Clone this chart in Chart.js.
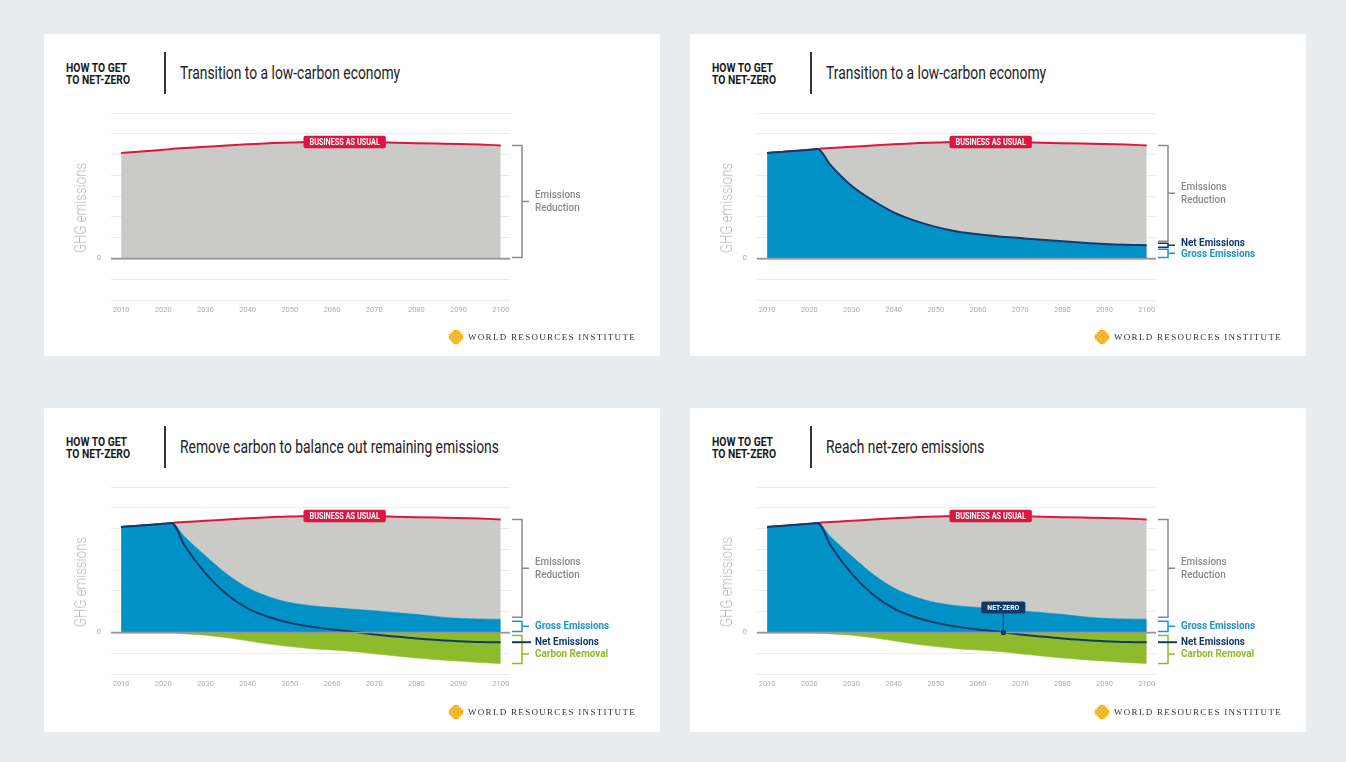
<!DOCTYPE html>
<html>
<head>
<meta charset="utf-8">
<title>How to get to net-zero</title>
<script src="https://cdn.jsdelivr.net/npm/chart.js@4.4.1/dist/chart.umd.min.js"></script>
<style>
  html, body { margin: 0; padding: 0; }
  body {
    width: 1346px; height: 762px; background: #e8ecee; position: relative; overflow: hidden;
    font-family: Roboto, "Liberation Sans", sans-serif;
  }
  .panel { position: absolute; width: 616px; height: 322px; background: #fff; }
  .kicker {
    position: absolute; left: 22px; top: 28px; font-weight: bold; font-size: 12px; line-height: 12px; color: #1a1a1a;
    transform: scaleX(0.86); transform-origin: left top; white-space: nowrap;
  }
  .divider { position: absolute; left: 120px; top: 18px; width: 1.5px; height: 42px; background: #333; }
  .title {
    position: absolute; left: 136px; top: 28px; font-size: 18px; line-height: 22px; color: #222; white-space: nowrap;
    transform: scaleX(0.77); transform-origin: left center;
  }
  .ytitle {
    position: absolute; left: -24px; top: 165px; width: 120px; line-height: 18px; text-align: center;
    font-size: 17px; font-weight: 300; color: #b9b9b9; white-space: nowrap;
    transform: rotate(-90deg) scaleX(0.78);
  }
  .panel canvas { position: absolute; left: 0; top: 60px; }
  .wri { position: absolute; left: 404px; top: 295px; height: 16px; display: flex; align-items: center; }
  .wri span { margin-left: 4px; font-family: "Liberation Serif", "DejaVu Serif", serif; font-size: 9px; letter-spacing: 1.3px; color: #333; }
</style>
</head>
<body>

<div class="panel" style="left:44px; top:34px;">
  <div class="kicker">HOW TO GET<br>TO NET-ZERO</div><div class="divider"></div>
  <div class="title" id="t1"></div>
  <canvas id="c1" width="616" height="240"></canvas>
  <div class="ytitle">GHG emissions</div>
  <div class="wri"><svg width="16" height="16" class="logo"></svg><span>WORLD RESOURCES INSTITUTE</span></div>
</div>
<div class="panel" style="left:690px; top:34px;">
  <div class="kicker">HOW TO GET<br>TO NET-ZERO</div><div class="divider"></div>
  <div class="title" id="t2"></div>
  <canvas id="c2" width="616" height="240"></canvas>
  <div class="ytitle">GHG emissions</div>
  <div class="wri"><svg width="16" height="16" class="logo"></svg><span>WORLD RESOURCES INSTITUTE</span></div>
</div>
<div class="panel" style="left:44px; top:408px; height:324px;">
  <div class="kicker">HOW TO GET<br>TO NET-ZERO</div><div class="divider"></div>
  <div class="title" id="t3"></div>
  <canvas id="c3" width="616" height="240"></canvas>
  <div class="ytitle">GHG emissions</div>
  <div class="wri" style="top:296px;"><svg width="16" height="16" class="logo"></svg><span>WORLD RESOURCES INSTITUTE</span></div>
</div>
<div class="panel" style="left:690px; top:408px; height:324px;">
  <div class="kicker">HOW TO GET<br>TO NET-ZERO</div><div class="divider"></div>
  <div class="title" id="t4"></div>
  <canvas id="c4" width="616" height="240"></canvas>
  <div class="ytitle">GHG emissions</div>
  <div class="wri" style="top:296px;"><svg width="16" height="16" class="logo"></svg><span>WORLD RESOURCES INSTITUTE</span></div>
</div>

<script>
// years sampled along the curves
const years = [2010, 2020, 2022, 2025, 2030, 2035, 2040, 2045, 2050, 2055, 2060, 2065, 2070, 2075, 2080, 2085, 2090, 2095, 2100];
const xTickYears = [2010, 2020, 2030, 2040, 2050, 2060, 2070, 2080, 2090, 2100];

const businessAsUsual     = [5.08, 5.23, 5.27, 5.31, 5.37, 5.44, 5.50, 5.55, 5.58, 5.60, 5.60, 5.60, 5.59, 5.57, 5.55, 5.53, 5.51, 5.48, 5.44];
const transitionEmissions = [5.08, 5.23, 5.27, 4.50, 3.50, 2.80, 2.22, 1.82, 1.52, 1.30, 1.16, 1.06, 0.98, 0.90, 0.83, 0.76, 0.70, 0.66, 0.64];
const grossEmissions      = [5.08, 5.23, 5.27, 4.62, 3.69, 2.82, 2.15, 1.72, 1.44, 1.29, 1.20, 1.12, 1.05, 0.96, 0.87, 0.76, 0.68, 0.65, 0.64];
const netEmissions        = [5.08, 5.23, 5.27, 4.20, 2.84, 1.84, 1.16, 0.74, 0.46, 0.28, 0.14, 0.03, -0.10, -0.20, -0.29, -0.36, -0.42, -0.46, -0.47];
const carbonRemoval       = [0, 0, -0.02, -0.07, -0.13, -0.25, -0.40, -0.56, -0.68, -0.78, -0.85, -0.92, -1.03, -1.13, -1.23, -1.31, -1.38, -1.45, -1.50];

const panelTitles = [
  'Transition to a low-carbon economy',
  'Transition to a low-carbon economy',
  'Remove carbon to balance out remaining emissions',
  'Reach net-zero emissions'
];
const bauLabelYear = 2063;
const netZeroYear = 2066;

const RED = '#e0143f', GRAY_FILL = '#cacac6', BLUE = '#0092c6', NAVY = '#13396b', GREEN = '#8dbb2c';
const LABEL_GRAY = '#8a8a8a', GROSS_BLUE = '#1d95ca';
const FONT = 'Roboto, "Liberation Sans", sans-serif';
const SQUEEZE = 0.86;

Chart.defaults.font.family = FONT;

panelTitles.forEach((t, i) => { document.getElementById('t' + (i + 1)).textContent = t; });

// little WRI flower mark
document.querySelectorAll('svg.logo').forEach(svg => {
  let s = '';
  for (let r = -3; r <= 3; r++) {
    for (let c = -3; c <= 3; c++) {
      if (Math.abs(r) + Math.abs(c) > 4) continue;
      const col = (Math.abs(r) + Math.abs(c)) % 2 ? '#f2a81d' : '#f7c843';
      s += `<circle cx="${8 + c * 2}" cy="${8 + r * 2}" r="1.3" fill="${col}"/>`;
    }
  }
  svg.innerHTML = s;
});

const pts = values => years.map((yr, i) => ({ x: yr, y: values[i] }));

function valueAt(values, year) {
  for (let i = 1; i < years.length; i++) {
    if (year <= years[i]) {
      const t = (year - years[i - 1]) / (years[i] - years[i - 1]);
      return values[i - 1] + t * (values[i] - values[i - 1]);
    }
  }
  return values[values.length - 1];
}

// condensed-looking text: squeeze horizontally
function narrowText(ctx, text, x, y, align) {
  const w = ctx.measureText(text).width * SQUEEZE;
  const left = align === 'center' ? x - w / 2 : x;
  ctx.save();
  ctx.translate(left, y);
  ctx.scale(SQUEEZE, 1);
  ctx.textAlign = 'left';
  ctx.textBaseline = 'middle';
  ctx.fillText(text, 0, 0);
  ctx.restore();
  return w;
}

function bracket(ctx, x0, top, bottom, mid, color) {
  ctx.strokeStyle = color;
  ctx.lineWidth = 1.5;
  ctx.beginPath();
  ctx.moveTo(x0, top); ctx.lineTo(x0 + 10, top); ctx.lineTo(x0 + 10, bottom); ctx.lineTo(x0, bottom);
  ctx.moveTo(x0 + 10, mid); ctx.lineTo(x0 + 17, mid);
  ctx.stroke();
}

function label(ctx, text, x, y, color, weight) {
  ctx.fillStyle = color;
  ctx.font = (weight || 'bold') + ' 11.5px ' + FONT;
  narrowText(ctx, text, x, y, 'left');
}

function pill(ctx, text, cx, cy, color, size) {
  ctx.font = 'bold ' + size + 'px ' + FONT;
  const w = ctx.measureText(text).width * SQUEEZE + 12, h = size + 4;
  ctx.fillStyle = color;
  ctx.beginPath();
  ctx.roundRect(cx - w / 2, cy - h / 2, w, h, 2);
  ctx.fill();
  ctx.fillStyle = '#fff';
  narrowText(ctx, text, cx, cy + 0.5, 'center');
  return h;
}

const overlay = {
  id: 'overlay',
  afterDatasetsDraw(chart, args, opts) {
    const { ctx, chartArea, scales: { x, y } } = chart;
    const kind = opts.kind;
    const y0 = y.getPixelForValue(0);
    ctx.save();

    // zero line on top of fills
    ctx.strokeStyle = '#979797';
    ctx.lineWidth = 1.5;
    ctx.beginPath();
    ctx.moveTo(chartArea.left, y0); ctx.lineTo(chartArea.right, y0);
    ctx.stroke();

    // business as usual tag
    pill(ctx, 'BUSINESS AS USUAL', x.getPixelForValue(bauLabelYear), y.getPixelForValue(valueAt(businessAsUsual, bauLabelYear)), RED, 8.5);

    const last = years.length - 1;
    const x0 = chartArea.right + 2;
    const tx = x0 + 23;
    const yBau = y.getPixelForValue(businessAsUsual[last]);

    const reduction = (top, bottom) => {
      const mid = (top + bottom) / 2;
      bracket(ctx, x0, top, bottom, mid, LABEL_GRAY);
      label(ctx, 'Emissions', tx, mid - 6.5, LABEL_GRAY, '500');
      label(ctx, 'Reduction', tx, mid + 6.5, LABEL_GRAY, '500');
    };

    if (kind === 'bau') {
      reduction(yBau, y0 - 1);
    } else if (kind === 'transition') {
      const yNet = y.getPixelForValue(transitionEmissions[last]);
      reduction(yBau, yNet - 4);
      bracket(ctx, x0, yNet - 2, yNet + 2, yNet, NAVY);
      label(ctx, 'Net Emissions', tx, yNet - 2.5, NAVY);
      const midB = (yNet + 4 + y0 - 1) / 2;
      bracket(ctx, x0, yNet + 4, y0 - 1, midB, GROSS_BLUE);
      label(ctx, 'Gross Emissions', tx, midB + 1, GROSS_BLUE);
    } else {
      const yGross = y.getPixelForValue(grossEmissions[last]);
      const yNet = y.getPixelForValue(netEmissions[last]);
      const yRem = y.getPixelForValue(carbonRemoval[last]);
      reduction(yBau, yGross - 2);
      const midB = (yGross + 2 + y0 - 1) / 2;
      bracket(ctx, x0, yGross + 2, y0 - 1, midB, GROSS_BLUE);
      label(ctx, 'Gross Emissions', tx, midB, GROSS_BLUE);
      const midR = (yNet + yRem) / 2 + 1;
      bracket(ctx, x0, y0 + 3, yRem, midR, GREEN);
      label(ctx, 'Carbon Removal', tx, midR, GREEN);
      ctx.strokeStyle = NAVY;
      ctx.lineWidth = 2;
      ctx.beginPath();
      ctx.moveTo(x0, yNet); ctx.lineTo(x0 + 19, yNet);
      ctx.stroke();
      label(ctx, 'Net Emissions', tx, yNet, NAVY);

      if (kind === 'netzero') {
        const nx = x.getPixelForValue(netZeroYear);
        const ny = y0 - 25;
        const h = pill(ctx, 'NET-ZERO', nx, ny, NAVY, 8);
        ctx.strokeStyle = NAVY;
        ctx.lineWidth = 1.2;
        ctx.beginPath();
        ctx.moveTo(nx, ny + h / 2); ctx.lineTo(nx, y0);
        ctx.stroke();
        ctx.fillStyle = NAVY;
        ctx.beginPath();
        ctx.arc(nx, y0, 2.6, 0, Math.PI * 2);
        ctx.fill();
      }
    }
    ctx.restore();
  }
};

function area(values, fillColor, order) {
  return {
    data: pts(values), backgroundColor: fillColor, borderColor: fillColor, borderWidth: 0.5,
    fill: 'origin', pointRadius: 0, cubicInterpolationMode: 'monotone', order: order
  };
}

function buildDatasets(kind) {
  const sets = [{
    data: pts(businessAsUsual), backgroundColor: GRAY_FILL, borderColor: RED, borderWidth: 2,
    fill: 'origin', pointRadius: 0, cubicInterpolationMode: 'monotone', order: 10
  }];
  if (kind === 'transition') {
    sets.push({
      data: pts(transitionEmissions), backgroundColor: BLUE, borderColor: NAVY, borderWidth: 2,
      fill: 'origin', pointRadius: 0, cubicInterpolationMode: 'monotone', order: 5
    });
  } else if (kind !== 'bau') {
    sets.push(area(grossEmissions, BLUE, 6));
    sets.push(area(carbonRemoval, GREEN, 7));
    sets.push({
      data: pts(netEmissions), borderColor: NAVY, borderWidth: 2, fill: false,
      pointRadius: 0, cubicInterpolationMode: 'monotone', order: 1
    });
  }
  return sets;
}

const panels = [
  { canvas: 'c1', kind: 'bau' },
  { canvas: 'c2', kind: 'transition' },
  { canvas: 'c3', kind: 'removal' },
  { canvas: 'c4', kind: 'netzero' }
];

panels.forEach(p => {
  new Chart(document.getElementById(p.canvas).getContext('2d'), {
    type: 'line',
    data: { datasets: buildDatasets(p.kind) },
    options: {
      responsive: false,
      animation: false,
      layout: { padding: { left: 22, right: 150, top: 19, bottom: 0 } },
      plugins: { legend: { display: false }, tooltip: { enabled: false }, overlay: { kind: p.kind } },
      scales: {
        x: {
          type: 'linear', min: 2007.6, max: 2102.2,
          afterBuildTicks: s => { s.ticks = xTickYears.map(v => ({ value: v })); },
          ticks: { color: '#adadad', font: { size: 7.5 }, padding: 6, autoSkip: false, maxRotation: 0, callback: v => String(v) },
          grid: { display: false, drawTicks: false },
          border: { display: false },
          afterFit: s => { s.height = 34; }
        },
        y: {
          min: -2, max: 7,
          ticks: { stepSize: 1, padding: 10, color: '#a8a8a8', font: { size: 7.5 }, callback: v => (v === 0 ? '0' : '') },
          grid: {
            drawTicks: false,
            color: c => (c.tick && c.tick.value === 0 ? '#9a9a9a' : '#ececec'),
            lineWidth: c => (c.tick && c.tick.value === 0 ? 1.5 : 1)
          },
          border: { display: false },
          afterFit: s => { s.width = 45; }
        }
      }
    },
    plugins: [overlay]
  });
});
</script>
</body>
</html>
